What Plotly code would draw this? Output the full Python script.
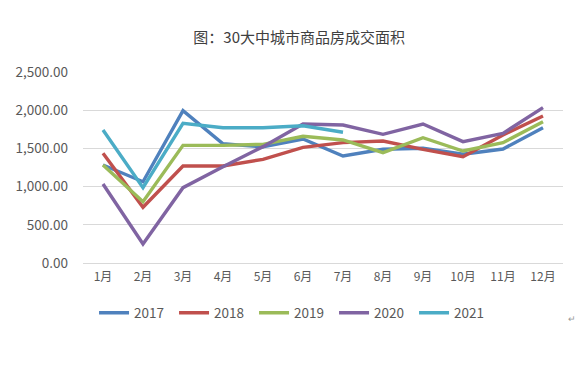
import plotly.graph_objects as go

months = ["1月", "2月", "3月", "4月", "5月", "6月", "7月", "8月", "9月", "10月", "11月", "12月"]
y2017 = [1283, 1064, 1995, 1560, 1520, 1623, 1400, 1488, 1501, 1423, 1492, 1771]
y2018 = [1436, 729, 1270, 1270, 1357, 1514, 1575, 1597, 1488, 1391, 1675, 1924]
y2019 = [1283, 802, 1540, 1540, 1553, 1658, 1610, 1444, 1640, 1466, 1575, 1850]
y2020 = [1034, 250, 986, 1261, 1523, 1819, 1806, 1684, 1819, 1588, 1697, 2033]
y2021 = [1741, 986, 1828, 1771, 1771, 1797, 1711]

series = [
    ("2017", y2017, "#4F81BD"),
    ("2018", y2018, "#C0504D"),
    ("2019", y2019, "#9BBB59"),
    ("2020", y2020, "#8064A2"),
    ("2021", y2021, "#4BACC6"),
]

fig = go.Figure()
for name, vals, color in series:
    fig.add_trace(go.Scatter(
        x=months[:len(vals)], y=vals, name=name, mode="lines",
        line=dict(color=color, width=3.4),
    ))

font_family = "Noto Sans CJK SC, Noto Sans, sans-serif"
fig.update_layout(
    width=580, height=362,
    margin=dict(l=75, r=25, t=64, b=107, autoexpand=False),
    paper_bgcolor="white", plot_bgcolor="white",
    font=dict(family=font_family, size=12, color="#595959"),
    title=dict(text="图：30大中城市商品房成交面积", x=0.502, xanchor="center",
               y=0.917, yanchor="middle", font=dict(size=15, color="#404040")),
    xaxis=dict(categoryorder="array", categoryarray=months, showgrid=False,
               showline=False, ticks="", tickfont=dict(size=12, color="#595959"),
               range=[-0.5, 11.5], ticklabelstandoff=5),
    yaxis=dict(range=[0, 2500], dtick=500, tickformat=",.2f", showgrid=True,
               gridcolor="#D9D9D9", gridwidth=1, zeroline=True,
               zerolinecolor="#D9D9D9", zerolinewidth=1, ticks="",
               tickfont=dict(size=13.5, color="#595959"), ticklabelstandoff=14),
    legend=dict(orientation="h", x=0.023, xanchor="left", y=-0.262,
                yanchor="middle", entrywidth=35, entrywidthmode="pixels",
                font=dict(size=13.5, color="#595959"), traceorder="normal",
                itemwidth=30),
    showlegend=True,
)
fig.add_annotation(text="↵", xref="paper", yref="paper", x=1.031,
                   y=-0.335, showarrow=False,
                   font=dict(size=9, color="#999999"))

fig.write_html("out.html")
